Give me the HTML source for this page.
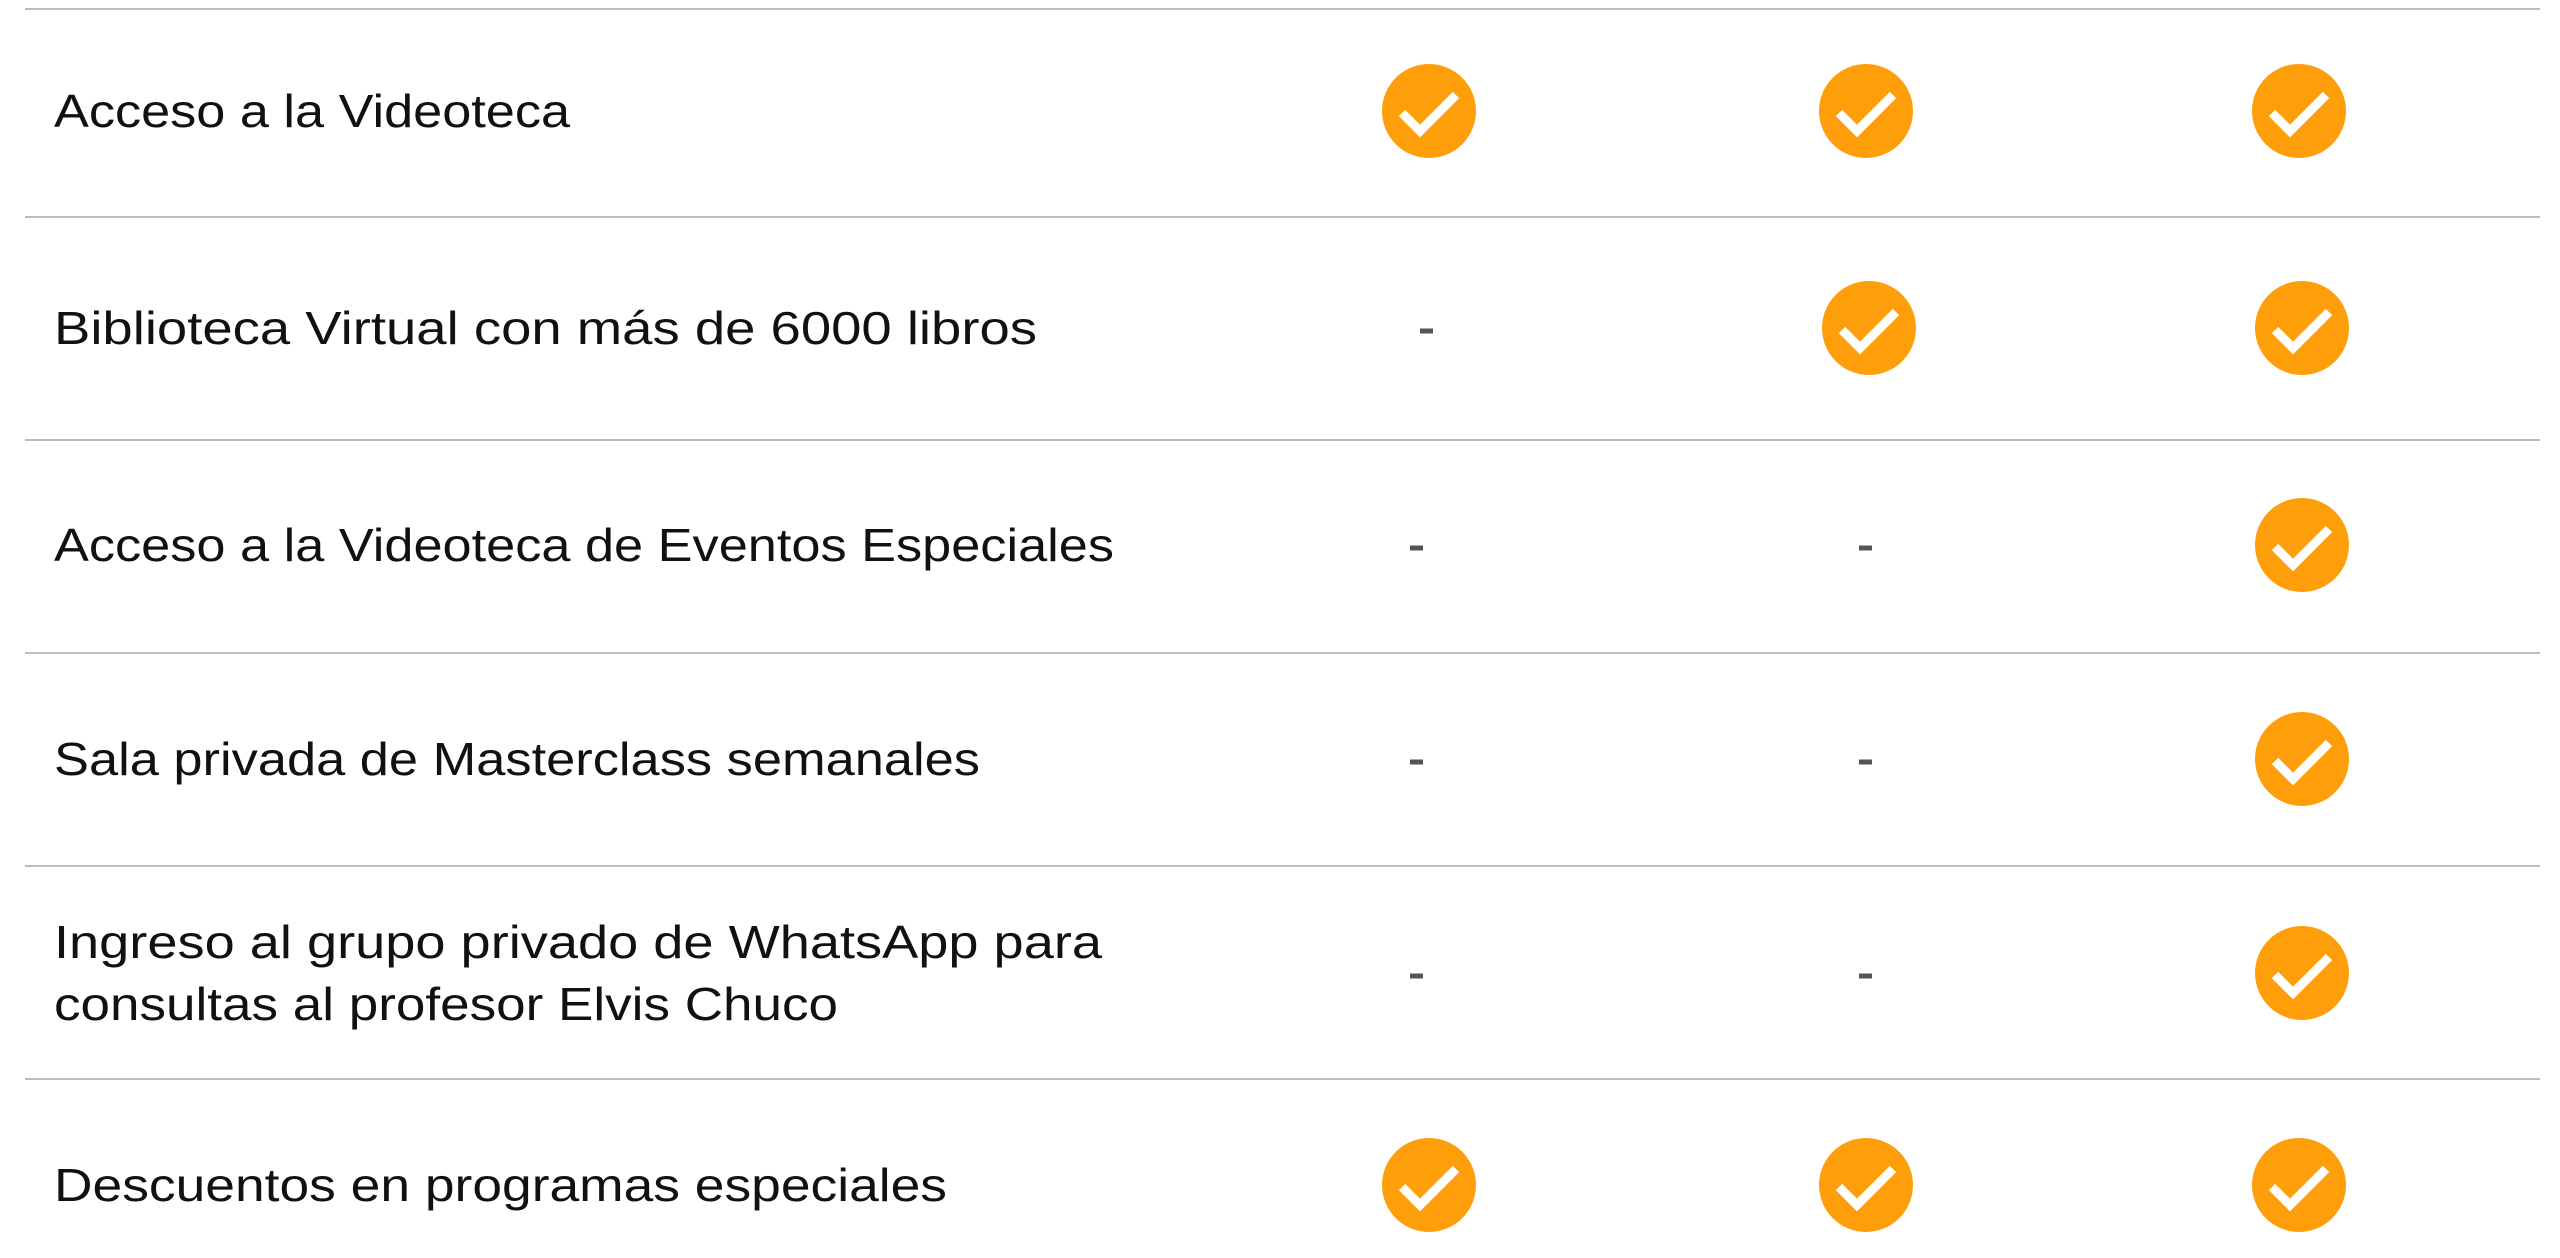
<!DOCTYPE html>
<html><head><meta charset="utf-8"><style>
html,body{margin:0;padding:0;background:#fff;}
svg{display:block;}
text{font-family:"Liberation Sans",sans-serif;font-size:46px;fill:#111;}
</style></head><body>
<svg width="2560" height="1258" viewBox="0 0 2560 1258" xmlns="http://www.w3.org/2000/svg">
<defs>
<g id="ck"><circle cx="0" cy="0" r="47" fill="#FF9E0B"/><polyline points="-27,2 -9,20 27,-16" fill="none" stroke="#fff" stroke-width="9"/></g>
<rect id="ds" x="-7" y="-2.5" width="13" height="5" fill="#555"/>
</defs>
<g stroke="#bdbdbd" stroke-width="2">
<line x1="25" y1="9" x2="2540" y2="9"/>
<line x1="25" y1="217" x2="2540" y2="217"/>
<line x1="25" y1="440" x2="2540" y2="440"/>
<line x1="25" y1="653" x2="2540" y2="653"/>
<line x1="25" y1="866" x2="2540" y2="866"/>
<line x1="25" y1="1079" x2="2540" y2="1079"/>
</g>
<text x="54" y="127" textLength="516" lengthAdjust="spacingAndGlyphs">Acceso a la Videoteca</text>
<text x="54" y="344" textLength="983" lengthAdjust="spacingAndGlyphs">Biblioteca Virtual con más de 6000 libros</text>
<text x="54" y="561" textLength="1060" lengthAdjust="spacingAndGlyphs">Acceso a la Videoteca de Eventos Especiales</text>
<text x="54" y="775" textLength="926" lengthAdjust="spacingAndGlyphs">Sala privada de Masterclass semanales</text>
<text x="54" y="958" textLength="1048" lengthAdjust="spacingAndGlyphs">Ingreso al grupo privado de WhatsApp para</text>
<text x="54" y="1020" textLength="784" lengthAdjust="spacingAndGlyphs">consultas al profesor Elvis Chuco</text>
<text x="54" y="1201" textLength="893" lengthAdjust="spacingAndGlyphs">Descuentos en programas especiales</text>
<use href="#ck" x="1429" y="111"/><use href="#ck" x="1866" y="111"/><use href="#ck" x="2299" y="111"/>
<use href="#ds" x="1427" y="331"/><use href="#ck" x="1869" y="328"/><use href="#ck" x="2302" y="328"/>
<use href="#ds" x="1417" y="548"/><use href="#ds" x="1866" y="548"/><use href="#ck" x="2302" y="545"/>
<use href="#ds" x="1417" y="762"/><use href="#ds" x="1866" y="762"/><use href="#ck" x="2302" y="759"/>
<use href="#ds" x="1417" y="976"/><use href="#ds" x="1866" y="976"/><use href="#ck" x="2302" y="973"/>
<use href="#ck" x="1429" y="1185"/><use href="#ck" x="1866" y="1185"/><use href="#ck" x="2299" y="1185"/>
</svg>
</body></html>
